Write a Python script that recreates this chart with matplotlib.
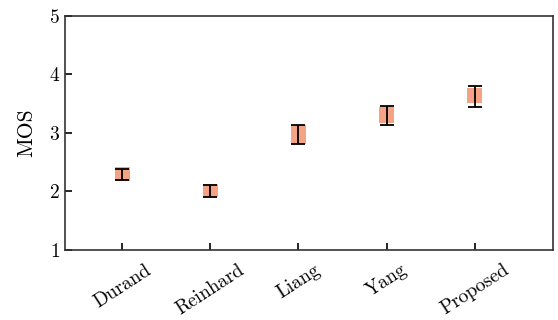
import matplotlib
matplotlib.use("Agg")
import matplotlib.pyplot as plt
from matplotlib.patches import Rectangle

methods = ["Durand", "Reinhard", "Liang", "Yang", "Proposed"]
mos_mean = [2.30, 2.01, 2.97, 3.30, 3.63]
box_low = [2.17, 1.90, 2.81, 3.17, 3.51]
box_high = [2.42, 2.12, 3.14, 3.44, 3.77]
err_low = [2.19, 1.90, 2.81, 3.13, 3.45]
err_high = [2.38, 2.11, 3.13, 3.46, 3.80]

plt.rcParams['font.family'] = ['cmr10', 'DejaVu Serif']
plt.rcParams['axes.formatter.use_mathtext'] = True
plt.rcParams['mathtext.fontset'] = 'cm'

fig = plt.figure(figsize=(5.58, 3.2), dpi=100)
ax = fig.add_axes([0.1165, 0.219, 0.8745, 0.731])

x = list(range(1, len(methods) + 1))
bw = 0.17
for xi, lo, hi in zip(x, box_low, box_high):
    ax.add_patch(Rectangle((xi - bw / 2, lo), bw, hi - lo, facecolor="#F4A385",
                           edgecolor="none", zorder=2))
yerr = [[m - l for m, l in zip(mos_mean, err_low)],
        [h - m for m, h in zip(mos_mean, err_high)]]
ax.errorbar(x, mos_mean, yerr=yerr, fmt="none", ecolor="black", elinewidth=1.3,
            capsize=5, capthick=1.3, zorder=3)

ax.set_xlim(0.35, 5.89)
ax.set_ylim(1, 5)
ax.set_yticks([1, 2, 3, 4, 5])
ax.set_xticks(x)
ax.set_xticklabels(methods, rotation=33, ha="center", fontsize=14)
ax.tick_params(axis="both", direction="in", length=5, width=1.2, labelsize=14)
ax.tick_params(axis="x", pad=8)
ax.set_ylabel("MOS", fontsize=15.5, labelpad=9)
for s in ax.spines.values():
    s.set_linewidth(1.2)
    s.set_color("#333333")

fig.savefig("out.png", dpi=100)
